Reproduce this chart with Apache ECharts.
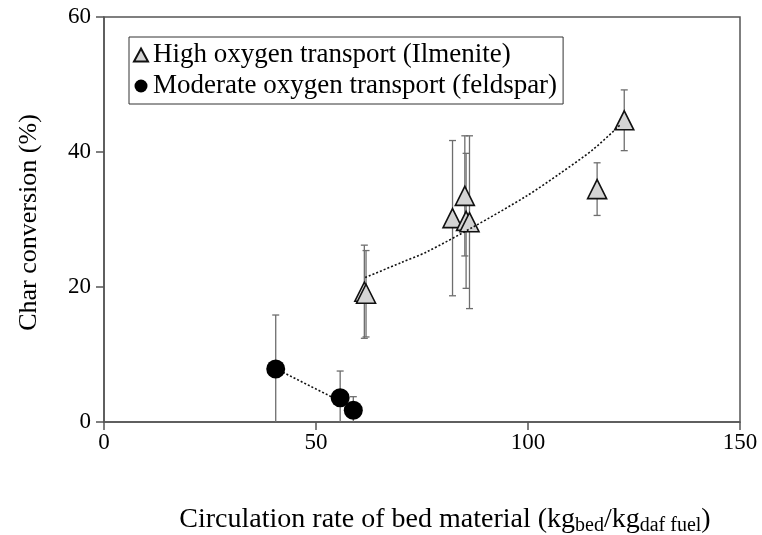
<!DOCTYPE html>
<html>
<head>
<meta charset="utf-8">
<script src="https://cdn.jsdelivr.net/npm/echarts@6/dist/echarts.min.js"></script>
<style>
  html, body { margin: 0; padding: 0; background: #fff; }
  #chart { width: 762px; height: 535px; }
</style>
</head>
<body>
<div id="chart"></div>
<script>
// Ilmenite (high oxygen transport) runs: circulation rate, char conversion, error (±)
var ilmeniteX   = [61.4, 61.8, 82.2, 85.1, 85.4, 86.2, 116.3, 122.7];
var ilmeniteY   = [19.3, 19.0, 30.2, 33.5, 29.8, 29.6, 34.5, 44.7];
var ilmeniteErr = [6.9, 6.4, 11.5, 8.9, 10.0, 12.8, 3.9, 4.5];

// Feldspar (moderate oxygen transport) runs
var feldsparX   = [40.5, 55.7, 58.8];
var feldsparY   = [7.85, 3.6, 1.75];
var feldsparErr = [8.0, 3.95, 2.0];

// Dotted trend lines
var ilmeniteTrendX = [61.6, 70.0, 76.1, 87.1, 99.7, 107.5, 115.4, 121.7];
var ilmeniteTrendY = [21.4, 23.6, 25.2, 28.9, 33.5, 36.8, 40.4, 44.0];
var feldsparTrendX = [40.5, 58.8];
var feldsparTrendY = [7.9, 2.1];

var xTicks = [0, 50, 100, 150];
var yTicks = [0, 20, 40, 60];

var FONT = "'Liberation Serif', 'Times New Roman', serif";
var AXIS_COLOR = '#555';

function pairs(xs, ys) { return xs.map(function (x, i) { return [x, ys[i]]; }); }
function errRows(xs, ys, es) {
  return xs.map(function (x, i) { return [x, ys[i] - es[i], ys[i] + es[i]]; });
}

function renderErrorBar(params, api) {
  var x = api.value(0);
  var lo = Math.max(0, api.value(1));
  var hi = api.value(2);
  var pLo = api.coord([x, lo]);
  var pHi = api.coord([x, hi]);
  var cap = 3.5;
  var style = { stroke: '#6e6e6e', lineWidth: 1.3 };
  var children = [
    { type: 'line', shape: { x1: pHi[0], y1: pHi[1], x2: pLo[0], y2: pLo[1] }, style: style },
    { type: 'line', shape: { x1: pHi[0] - cap, y1: pHi[1], x2: pHi[0] + cap, y2: pHi[1] }, style: style }
  ];
  if (api.value(1) > 0) {
    children.push({ type: 'line', shape: { x1: pLo[0] - cap, y1: pLo[1], x2: pLo[0] + cap, y2: pLo[1] }, style: style });
  }
  return { type: 'group', children: children };
}

var chart = echarts.init(document.getElementById('chart'), null, { renderer: 'canvas' });

chart.setOption({
  animation: false,
  backgroundColor: '#fff',
  textStyle: { fontFamily: FONT, color: '#000' },
  grid: {
    left: 104, right: 22, top: 17, bottom: 113,
    containLabel: false, outerBoundsMode: 'none',
    show: true, borderColor: AXIS_COLOR, borderWidth: 1.5, backgroundColor: 'transparent'
  },
  legend: {
    orient: 'vertical',
    left: 129, top: 37,
    padding: [4, 6, 4, 4],
    itemGap: 3,
    itemWidth: 14, itemHeight: 13,
    borderColor: '#333', borderWidth: 1,
    backgroundColor: '#fff',
    textStyle: { fontFamily: FONT, fontSize: 27, color: '#000', lineHeight: 28 },
    data: ['High oxygen transport (Ilmenite)', 'Moderate oxygen transport (feldspar)']
  },
  xAxis: {
    type: 'value', min: xTicks[0], max: xTicks[xTicks.length - 1], interval: 50,
    name: '{m|Circulation rate of bed material (kg}{s|bed}{m|/kg}{s|daf fuel}{m|)}',
    nameLocation: 'middle', nameGap: 80,
    nameTextStyle: {
      padding: [0, 0, 0, 46],
      rich: {
        m: { fontFamily: FONT, fontSize: 28, color: '#000', lineHeight: 32, verticalAlign: 'bottom' },
        s: { fontFamily: FONT, fontSize: 20, color: '#000', lineHeight: 20, verticalAlign: 'bottom', padding: [0, 0, -2, 0] }
      }
    },
    axisLine: { onZero: false, lineStyle: { color: AXIS_COLOR, width: 1.5 } },
    axisTick: { inside: false, length: 8, lineStyle: { color: AXIS_COLOR, width: 1.5 } },
    axisLabel: { fontFamily: FONT, fontSize: 23, color: '#000', margin: 9 },
    splitLine: { show: false }
  },
  yAxis: {
    type: 'value', min: yTicks[0], max: yTicks[yTicks.length - 1], interval: 20,
    name: 'Char conversion (%)',
    nameLocation: 'middle', nameGap: 62, nameRotate: 90,
    nameTextStyle: { fontFamily: FONT, fontSize: 26, color: '#000', padding: [0, 6, 0, 0] },
    axisLine: { onZero: false, lineStyle: { color: AXIS_COLOR, width: 1.5 } },
    axisTick: { inside: false, length: 8, lineStyle: { color: AXIS_COLOR, width: 1.5 } },
    axisLabel: { fontFamily: FONT, fontSize: 23, color: '#000', margin: 13 },
    splitLine: { show: false }
  },
  series: [
    {
      type: 'custom', name: 'ilmErr', renderItem: renderErrorBar, clip: true,
      data: errRows(ilmeniteX, ilmeniteY, ilmeniteErr), z: 1, silent: true
    },
    {
      type: 'custom', name: 'feldErr', renderItem: renderErrorBar, clip: true,
      data: errRows(feldsparX, feldsparY, feldsparErr), z: 1, silent: true
    },
    {
      type: 'scatter', name: 'High oxygen transport (Ilmenite)',
      symbol: 'triangle', symbolSize: 19,
      itemStyle: { color: '#d4d4d4', borderColor: '#111', borderWidth: 1.6, opacity: 1 },
      data: pairs(ilmeniteX, ilmeniteY), z: 3
    },
    {
      type: 'scatter', name: 'Moderate oxygen transport (feldspar)',
      symbol: 'circle', symbolSize: 19,
      itemStyle: { color: '#000', opacity: 1 },
      data: pairs(feldsparX, feldsparY), z: 3
    },
    {
      type: 'line', name: 'ilmTrend', showSymbol: false, smooth: 0.3,
      lineStyle: { color: '#111', width: 1.6, type: [2, 2] },
      data: pairs(ilmeniteTrendX, ilmeniteTrendY), z: 4, silent: true
    },
    {
      type: 'line', name: 'feldTrend', showSymbol: false,
      lineStyle: { color: '#111', width: 1.6, type: [2, 2] },
      data: pairs(feldsparTrendX, feldsparTrendY), z: 2, silent: true
    }
  ]
});
</script>
</body>
</html>
